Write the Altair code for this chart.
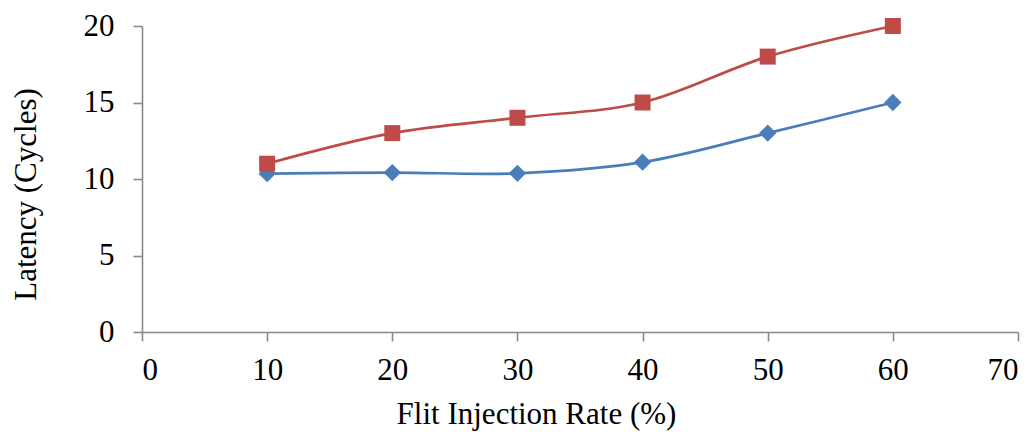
import altair as alt
import pandas as pd

rates = [10, 20, 30, 40, 50, 60]
blue_vals = [10.35, 10.42, 10.37, 11.1, 13.0, 15.0]
red_vals = [11.0, 13.0, 14.0, 15.0, 18.0, 20.0]

df = pd.DataFrame({
    "rate": rates * 2,
    "latency": blue_vals + red_vals,
    "series": ["A"] * len(rates) + ["B"] * len(rates),
})

FONT = "Liberation Serif"
colors = alt.Scale(domain=["A", "B"], range=["#4A7EBB", "#BE4B48"])

x = alt.X("rate:Q", scale=alt.Scale(domain=[0, 70], nice=False),
          axis=alt.Axis(title="Flit Injection Rate (%)", values=list(range(0, 71, 10)),
                        grid=False, tickSize=9, labelPadding=14,
                        titleX=394, titleY=91, titleAlign="center",
                        titleBaseline="alphabetic", titleAnchor="start"))
y = alt.Y("latency:Q", scale=alt.Scale(domain=[0, 20], nice=False),
          axis=alt.Axis(title="Latency (Cycles)", values=list(range(0, 21, 5)),
                        grid=False, tickSize=9, labelPadding=19,
                        titleX=-107, titleY=168, titleAlign="center",
                        titleBaseline="alphabetic", titleAngle=270, titleAnchor="start"))

base = alt.Chart(df).encode(x=x, y=y, color=alt.Color("series:N", scale=colors, legend=None))

lines = base.mark_line(interpolate="catmull-rom", strokeWidth=2.7)
blue_pts = base.transform_filter(alt.datum.series == "A").mark_point(
    shape="diamond", filled=True, size=300, opacity=1)
red_pts = base.transform_filter(alt.datum.series == "B").mark_point(
    shape="square", filled=True, size=256, opacity=1)

chart = alt.layer(lines, blue_pts, red_pts).properties(
    width=876, height=306,
    autosize=alt.AutoSizeParams(type="none"),
    padding={"left": 142, "top": 26, "right": 18, "bottom": 100},
).configure(background="white").configure_view(stroke=None).configure_axis(
    domainColor="#898989", tickColor="#898989", domainWidth=1.6, tickWidth=1.6,
    labelFont=FONT, titleFont=FONT, labelFontSize=31, titleFontSize=31,
    labelColor="black", titleColor="black", titleFontWeight="normal",
)

chart.save("out.html", embed_options={"renderer": "svg", "actions": False})
